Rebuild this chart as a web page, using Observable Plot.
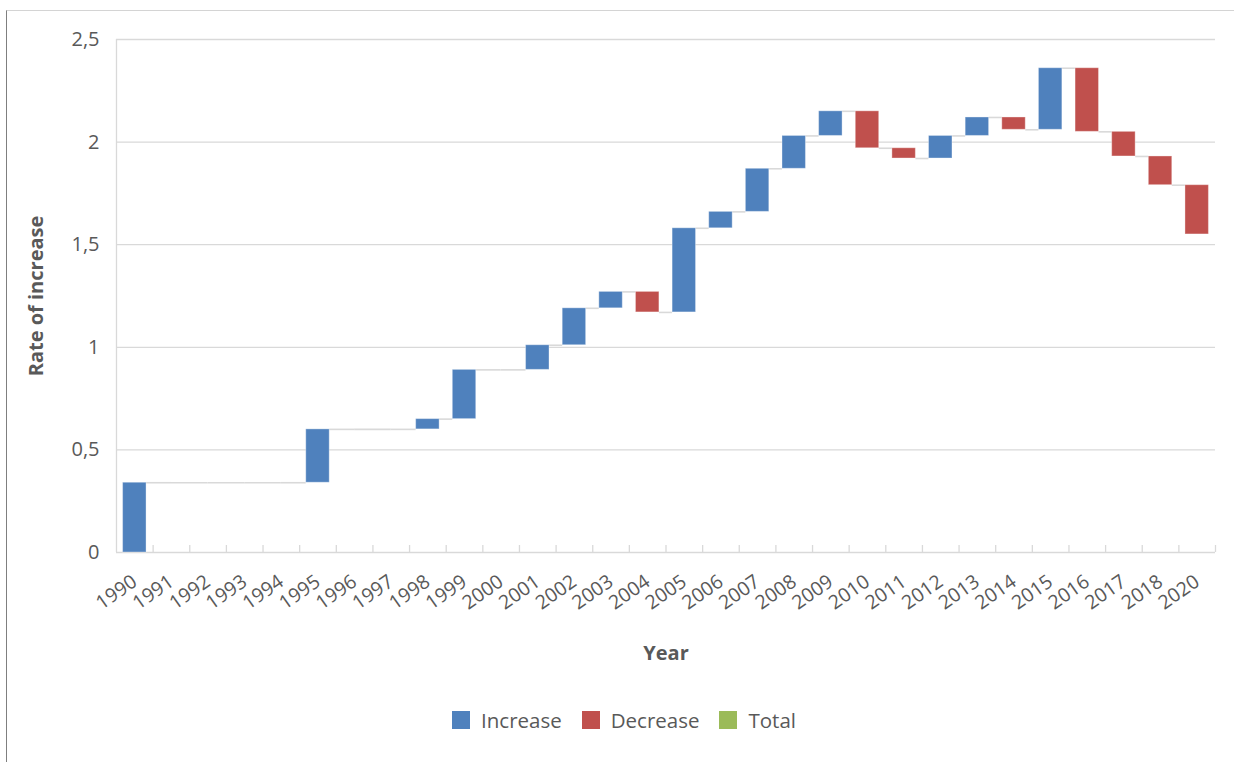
<!DOCTYPE html>
<html>
<head>
<meta charset="utf-8">
<script src="https://cdn.jsdelivr.net/npm/d3@7"></script>
<script src="https://cdn.jsdelivr.net/npm/@observablehq/plot@0.6"></script>
<style>
  body { margin: 0; background: #fff; font-family: "Open Sans", sans-serif; }
  #frame { position: absolute; left: 6px; top: 10px; width: 1228px; height: 752px;
           border-left: 1.5px solid #7f7f7f; border-top: 1px solid #d4d4d4; }
  #chart { position: absolute; left: 0; top: 0; width: 1234px; }
  .legend { display: flex; justify-content: center; align-items: center; height: 40px;
            padding-left: 14px; gap: 20px; font-size: 20.5px; color: #595959; }
  .legend span.item { display: flex; align-items: center; gap: 11px; }
  .legend i { display: inline-block; width: 18px; height: 18px; }
</style>
</head>
<body>
<div id="frame"></div>
<div id="chart"></div>
<script>
// Years on the category axis (2019 is not reported)
const years = ["1990", "1991", "1992", "1993", "1994", "1995", "1996", "1997", "1998", "1999",
  "2000", "2001", "2002", "2003", "2004", "2005", "2006", "2007", "2008", "2009",
  "2010", "2011", "2012", "2013", "2014", "2015", "2016", "2017", "2018", "2020"];

// Change in the rate for each year
const changes = [0.34, 0, 0, 0, 0, 0.26, 0, 0, 0.05, 0.24,
  0, 0.12, 0.18, 0.08, -0.10, 0.41, 0.08, 0.21, 0.16, 0.12,
  -0.18, -0.05, 0.11, 0.09, -0.06, 0.30, -0.31, -0.12, -0.14, -0.24];

const legendItems = ["Increase", "Decrease", "Total"];
const legendColors = ["#4f81bd", "#c0504d", "#9bbb59"];
const yTicks = [0, 0.5, 1, 1.5, 2, 2.5];

// Running level: each bar floats from the previous total to the new one
let level = 0;
const rows = years.map((year, i) => {
  const start = level;
  level += changes[i];
  return {i, year, start, end: level, change: changes[i],
          type: changes[i] >= 0 ? "Increase" : "Decrease"};
});

const half = 0.32; // half of a bar's width, in category units
const bars = rows.filter(d => d.change !== 0);

// Connectors run from the edge of one bar to the edge of the next
const links = rows.slice(0, -1).map((d, k) => ({
  y: d.end,
  x1: d.i + (d.change !== 0 ? half : 0),
  x2: d.i + 1 - (rows[k + 1].change !== 0 ? half : 0)
}));

const boundaries = d3.range(years.length).map(i => i + 0.5);

const chart = Plot.plot({
  width: 1234,
  height: 700,
  marginLeft: 116,
  marginRight: 19,
  marginTop: 39,
  marginBottom: 148,
  style: {color: "#595959", fontFamily: "'Open Sans', sans-serif", background: "transparent"},
  x: {type: "linear", domain: [-0.5, years.length - 0.5]},
  y: {domain: [0, 2.5]},
  color: {domain: legendItems, range: legendColors},
  marks: [
    Plot.ruleY(yTicks.filter(t => t > 0), {stroke: "#d9d9d9", strokeWidth: 1.3}),
    Plot.ruleX([-0.5], {stroke: "#d9d9d9", strokeWidth: 1.3}),
    Plot.ruleY([0], {stroke: "#d9d9d9", strokeWidth: 1.3}),
    Plot.ruleX(boundaries, {x: d => d, y1: 0, y2: 0, insetBottom: 7, stroke: "#d9d9d9", strokeWidth: 1.3}),
    Plot.ruleY(links, {y: "y", x1: "x1", x2: "x2", stroke: "#d9d9d9", strokeWidth: 1.6}),
    Plot.rectY(bars, {
      x1: d => d.i - half, x2: d => d.i + half,
      y1: "start", y2: "end", fill: "type",
      stroke: "white", strokeOpacity: 0.35, strokeWidth: 1
    }),
    Plot.axisY({ticks: yTicks, tickFormat: d => String(d).replace(".", ","),
      tickSize: 0, tickPadding: 17, fontSize: 20, label: null}),
    Plot.axisX({ticks: d3.range(years.length), tickFormat: i => years[i],
      tickRotate: -35, tickSize: 0, tickPadding: 27, fontSize: 19.5, label: null}),
    Plot.text(["Rate of increase"], {frameAnchor: "left", rotate: -90, dx: -80,
      textAnchor: "middle", lineAnchor: "middle",
      fontWeight: "bold", fontSize: 20, fill: "#595959"}),
    Plot.text(["Year"], {frameAnchor: "bottom", dy: 101, lineAnchor: "middle",
      fontWeight: "bold", fontSize: 20, fill: "#595959"})
  ]
});

const legend = document.createElement("div");
legend.className = "legend";
legendItems.forEach((name, k) => {
  const item = document.createElement("span");
  item.className = "item";
  const sw = document.createElement("i");
  sw.style.background = legendColors[k];
  const label = document.createElement("span");
  label.textContent = name;
  item.append(sw, label);
  legend.append(item);
});

const host = document.getElementById("chart");
host.append(chart, legend);
</script>
</body>
</html>
